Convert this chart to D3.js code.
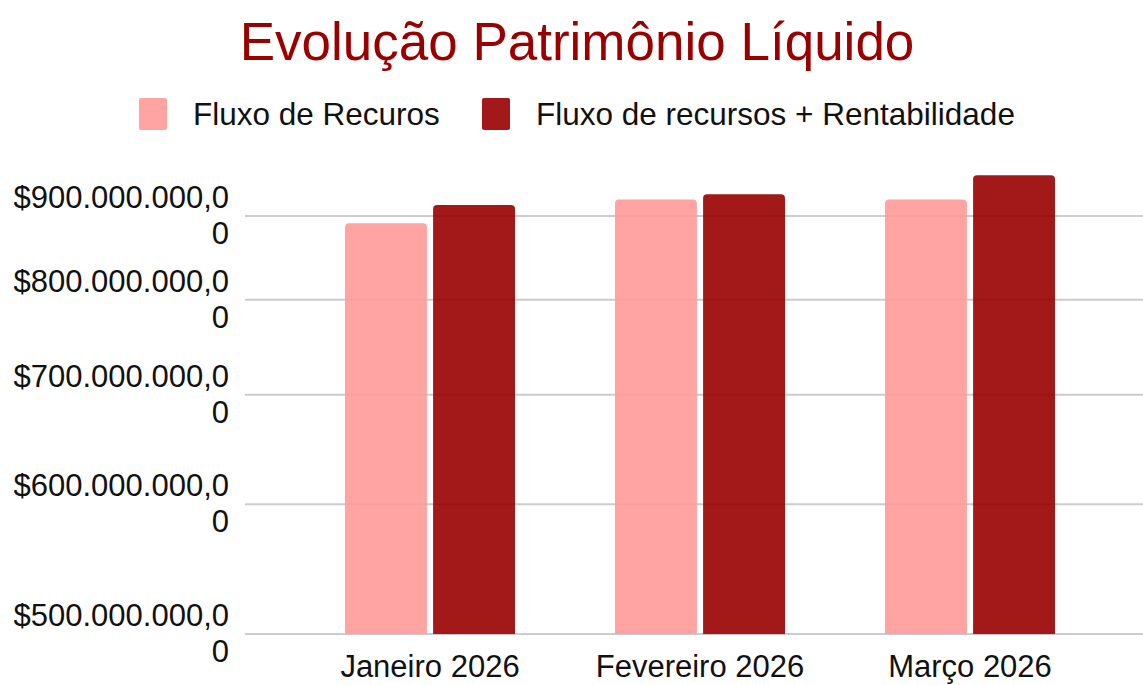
<!DOCTYPE html>
<html>
<head>
<meta charset="utf-8">
<script src="https://cdn.jsdelivr.net/npm/d3@7"></script>
<style>
  body { margin: 0; background: #fff; }
  text { font-family: "Liberation Sans", Arial, sans-serif; }
</style>
</head>
<body>
<div id="chart"></div>
<script>
var width = 1143;
var height = 685;

// data
let months = ['Janeiro 2026', 'Fevereiro 2026', 'Março 2026'];
let seriesNames = ['Fluxo de Recuros', 'Fluxo de recursos + Rentabilidade'];
let fluxo = [891e6, 921e6, 921e6];
let fluxoRent = [914e6, 928e6, 953e6];
let yTicks = [500e6, 600e6, 700e6, 800e6, 900e6];
let colors = ['#ff9999', '#990000'];

let svg = d3.select('#chart').append('svg')
    .attr('width', width)
    .attr('height', height);

let brl = d3.formatLocale({
    decimal: ',',
    thousands: '.',
    grouping: [3],
    currency: ['$', '']
});
let fmt = brl.format('$,.2f');

let y = d3.scaleLog()
    .domain([500e6, 900e6])
    .range([634, 216]);

let x = d3.scaleBand()
    .domain(months)
    .range([295, 1105]);

let xs = d3.scaleBand()
    .domain([0, 1])
    .range([0, 170])
    .paddingInner(0.07);

// title
svg.append('text')
    .attr('x', 577)
    .attr('y', 60)
    .attr('text-anchor', 'middle')
    .attr('font-size', 53)
    .attr('fill', '#990000')
    .text('Evolução Patrimônio Líquido');

// legend
let legendX = [139, 482];
seriesNames.forEach((name, i) => {
    svg.append('rect')
        .attr('x', legendX[i])
        .attr('y', 98)
        .attr('width', 28)
        .attr('height', 32)
        .attr('rx', 2)
        .attr('fill', colors[i])
        .attr('fill-opacity', 0.9);
    svg.append('text')
        .attr('x', legendX[i] + 54)
        .attr('y', 125)
        .attr('font-size', 31.5)
        .attr('fill', '#111')
        .text(name);
});

// gridlines
svg.append('g')
    .selectAll('line')
    .data(yTicks)
    .enter()
    .append('line')
    .attr('x1', 245)
    .attr('x2', width)
    .attr('y1', d => y(d))
    .attr('y2', d => y(d))
    .attr('stroke', '#cccccc')
    .attr('stroke-width', 2);

// y labels, wrapped like the original
let yl = svg.append('g')
    .selectAll('text')
    .data(yTicks)
    .enter()
    .append('text')
    .attr('text-anchor', 'end')
    .attr('font-size', 31)
    .attr('fill', '#111');
yl.append('tspan')
    .attr('x', 229)
    .attr('y', d => y(d) - 8)
    .text(d => fmt(d).slice(0, -1));
yl.append('tspan')
    .attr('x', 229)
    .attr('y', d => y(d) + 28)
    .text(d => fmt(d).slice(-1));

// bars
let barData = [];
months.forEach((m, i) => {
    barData.push({ m: m, s: 0, v: fluxo[i] });
    barData.push({ m: m, s: 1, v: fluxoRent[i] });
});

function topRounded(x0, y0, w, h, r) {
    return 'M' + x0 + ',' + (y0 + h) +
        'V' + (y0 + r) +
        'Q' + x0 + ',' + y0 + ' ' + (x0 + r) + ',' + y0 +
        'H' + (x0 + w - r) +
        'Q' + (x0 + w) + ',' + y0 + ' ' + (x0 + w) + ',' + (y0 + r) +
        'V' + (y0 + h) + 'Z';
}

let off = (x.bandwidth() - 170) / 2;
svg.append('g')
    .selectAll('path')
    .data(barData)
    .enter()
    .append('path')
    .attr('d', d => {
        let bx = x(d.m) + off + xs(d.s);
        let by = y(d.v);
        return topRounded(bx, by, xs.bandwidth(), y(500e6) - by, 4);
    })
    .attr('fill', d => colors[d.s])
    .attr('fill-opacity', 0.9);

// x labels
svg.append('g')
    .selectAll('text')
    .data(months)
    .enter()
    .append('text')
    .attr('x', d => x(d) + x.bandwidth() / 2)
    .attr('y', 677)
    .attr('text-anchor', 'middle')
    .attr('font-size', 31)
    .attr('fill', '#111')
    .text(d => d);
</script>
</body>
</html>
